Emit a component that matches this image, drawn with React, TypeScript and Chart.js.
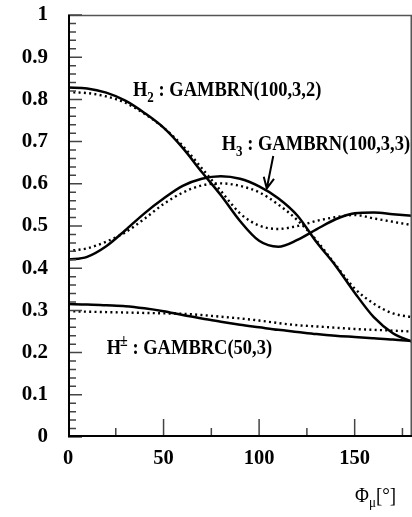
import React, { useEffect, useRef } from "react";
import { Chart, registerables } from "chart.js";

Chart.register(...registerables);

// ---- data ----
const phiDeg = [0, 10, 20, 30, 40, 50, 60, 70, 80, 90, 100, 110, 120, 130, 140, 150, 160, 170, 180];

const h2Solid = [0.828, 0.826, 0.816, 0.797, 0.768, 0.733, 0.685, 0.628, 0.573, 0.512, 0.465, 0.451, 0.467, 0.492, 0.516, 0.530, 0.532, 0.528, 0.524];
const h2Dotted = [0.817, 0.815, 0.807, 0.792, 0.766, 0.733, 0.690, 0.637, 0.583, 0.530, 0.501, 0.493, 0.500, 0.512, 0.521, 0.526, 0.518, 0.510, 0.502];
const h3Solid = [0.420, 0.427, 0.452, 0.490, 0.530, 0.565, 0.595, 0.612, 0.618, 0.612, 0.594, 0.566, 0.525, 0.462, 0.406, 0.342, 0.284, 0.246, 0.226];
const h3Dotted = [0.441, 0.447, 0.463, 0.485, 0.517, 0.552, 0.579, 0.596, 0.601, 0.595, 0.580, 0.551, 0.514, 0.466, 0.408, 0.352, 0.316, 0.293, 0.284];
const hpSolid = [0.315, 0.314, 0.312, 0.310, 0.305, 0.298, 0.289, 0.281, 0.273, 0.266, 0.260, 0.254, 0.249, 0.244, 0.240, 0.237, 0.234, 0.231, 0.227];
const hpDotted = [0.298, 0.297, 0.296, 0.295, 0.294, 0.293, 0.292, 0.289, 0.285, 0.281, 0.276, 0.270, 0.265, 0.262, 0.259, 0.256, 0.254, 0.252, 0.250];

const xTickLabels = [0, 50, 100, 150];
const xMinorTicks = [25, 50, 75, 100, 125, 150, 175];

const SERIF = '"Liberation Serif", "Times New Roman", serif';

type Part = { t: string; size: number; bold?: boolean; dy?: number; dx?: number };

function drawRich(ctx: CanvasRenderingContext2D, x: number, y: number, parts: Part[], sy = 1.18) {
  ctx.save();
  ctx.translate(x, y);
  ctx.scale(1, sy);
  ctx.fillStyle = "#000";
  ctx.textBaseline = "alphabetic";
  ctx.textAlign = "left";
  let cx = 0;
  for (const p of parts) {
    ctx.font = `${p.bold ? "bold " : ""}${p.size}px ${SERIF}`;
    cx += p.dx || 0;
    ctx.fillText(p.t, cx, (p.dy || 0) / sy);
    cx += ctx.measureText(p.t).width;
  }
  ctx.restore();
}

const overlay = {
  id: "overlay",
  afterDatasetsDraw(chart: any) {
    const { ctx, chartArea: a, scales } = chart;
    const xs = scales.x;
    const ys = scales.y;
    ctx.save();
    // frame top / right
    ctx.strokeStyle = "#555";
    ctx.lineWidth = 1.5;
    ctx.beginPath();
    ctx.moveTo(a.left, a.top + 0.5);
    ctx.lineTo(a.right, a.top + 0.5);
    ctx.moveTo(a.right - 0.75, a.top);
    ctx.lineTo(a.right - 0.75, a.bottom);
    ctx.stroke();
    // y ticks (inside)
    ctx.strokeStyle = "#444";
    ctx.lineWidth = 1.5;
    ctx.beginPath();
    for (let i = 0; i <= 50; i++) {
      const py = ys.getPixelForValue(i * 0.02);
      const len = i % 5 === 0 ? 14 : 8;
      ctx.moveTo(a.left, py);
      ctx.lineTo(a.left + len, py);
    }
    // x ticks (inside)
    for (const v of xMinorTicks) {
      const px = xs.getPixelForValue(v);
      const len = v % 50 === 0 ? 18 : 9;
      ctx.moveTo(px, a.bottom);
      ctx.lineTo(px, a.bottom - len);
    }
    ctx.stroke();
    // axes
    ctx.strokeStyle = "#000";
    ctx.lineWidth = 2;
    ctx.beginPath();
    ctx.moveTo(a.left + 1, a.top);
    ctx.lineTo(a.left + 1, a.bottom);
    ctx.moveTo(a.left, a.bottom - 1);
    ctx.lineTo(a.right, a.bottom - 1);
    ctx.stroke();

    // annotations
    drawRich(ctx, xs.getPixelForValue(34.0), ys.getPixelForValue(0.808), [
      { t: "H", size: 18.5, bold: true },
      { t: "2", size: 13, bold: true, dy: 6 },
      { t: " : GAMBRN(100,3,2)", size: 18.5, bold: true },
    ]);
    drawRich(ctx, xs.getPixelForValue(80.4), ys.getPixelForValue(0.681), [
      { t: "H", size: 18.5, bold: true },
      { t: "3", size: 13, bold: true, dy: 6 },
      { t: " : GAMBRN(100,3,3)", size: 18.5, bold: true },
    ]);
    drawRich(ctx, xs.getPixelForValue(20.25), ys.getPixelForValue(0.197), [
      { t: "H", size: 18.5, bold: true },
      { t: "\u00b1", size: 14, bold: true, dy: -8, dx: -1 },
      { t: " : GAMBRC(50,3)", size: 18.5, bold: true },
    ]);

    // arrow to H3 curve
    const tx = xs.getPixelForValue(107.4), ty = ys.getPixelForValue(0.666);
    const hx = xs.getPixelForValue(104.0), hy = ys.getPixelForValue(0.589);
    ctx.strokeStyle = "#000";
    ctx.lineWidth = 2;
    ctx.beginPath();
    ctx.moveTo(tx, ty);
    ctx.lineTo(hx, hy);
    const ang = Math.atan2(hy - ty, hx - tx);
    const L = 12, w = 0.45;
    ctx.moveTo(hx - L * Math.cos(ang - w), hy - L * Math.sin(ang - w));
    ctx.lineTo(hx, hy);
    ctx.lineTo(hx - L * Math.cos(ang + w), hy - L * Math.sin(ang + w));
    ctx.stroke();

    // x-axis title: Φμ[°]
    drawRich(ctx, xs.getPixelForValue(150.2), a.bottom + 65, [
      { t: "\u03a6", size: 19 },
      { t: "\u03bc", size: 13, dy: 5 },
      { t: "[\u00b0]", size: 19 },
    ], 1.12);
    ctx.restore();
  },
};

function series(vals: number[]) {
  return phiDeg.map((x, i) => ({ x, y: vals[i] }));
}

export default function App() {
  const ref = useRef<HTMLCanvasElement | null>(null);
  useEffect(() => {
    if (!ref.current) return;
    const solid = { borderColor: "#000", borderWidth: 2.5, pointRadius: 0, fill: false, cubicInterpolationMode: "monotone" as const };
    const dotted = { ...solid, borderWidth: 2.4, borderDash: [2, 3.3], borderCapStyle: "butt" as const };
    const chart = new Chart(ref.current, {
      type: "line",
      data: {
        datasets: [
          { label: "H2 solid", data: series(h2Solid), ...solid },
          { label: "H2 dotted", data: series(h2Dotted), ...dotted },
          { label: "H3 solid", data: series(h3Solid), ...solid },
          { label: "H3 dotted", data: series(h3Dotted), ...dotted },
          { label: "H+ solid", data: series(hpSolid), ...solid },
          { label: "H+ dotted", data: series(hpDotted), ...dotted },
        ] as any,
      },
      options: {
        animation: false,
        responsive: false,
        devicePixelRatio: 1,
        layout: { padding: { top: 15, right: 0, left: 0, bottom: 0 } },
        plugins: { legend: { display: false }, tooltip: { enabled: false } },
        scales: {
          x: {
            type: "linear",
            min: 0,
            max: 180,
            grid: { display: false, drawTicks: false },
            border: { display: false },
            afterBuildTicks: (s: any) => {
              s.ticks = xTickLabels.map((v) => ({ value: v }));
            },
            afterFit: (s: any) => {
              s.height = 80;
              s.paddingLeft = 0;
              s.paddingRight = 0;
            },
            ticks: {
              color: "#000",
              padding: 9,
              maxRotation: 0,
              font: { family: SERIF, size: 20.5, weight: "bold" },
            },
          },
          y: {
            type: "linear",
            min: 0,
            max: 1,
            grid: { display: false, drawTicks: false },
            border: { display: false },
            afterFit: (s: any) => {
              s.width = 68;
              s.paddingTop = 0;
              s.paddingBottom = 0;
            },
            ticks: {
              stepSize: 0.1,
              color: "#000",
              padding: 20,
              font: { family: SERIF, size: 21, weight: "bold" },
              callback: (v: any) => {
                const n = Number(v);
                if (Math.abs(n) < 1e-9) return "0";
                if (Math.abs(n - 1) < 1e-9) return "1";
                return n.toFixed(1);
              },
            },
          },
        },
      },
      plugins: [overlay],
    });
    return () => chart.destroy();
  }, []);
  return (
    <div style={{ position: "fixed", left: 0, top: 0, width: 412, height: 517, background: "#fff" }}>
      <canvas ref={ref} width={412} height={517} style={{ display: "block", width: 412, height: 517 }} />
    </div>
  );
}
